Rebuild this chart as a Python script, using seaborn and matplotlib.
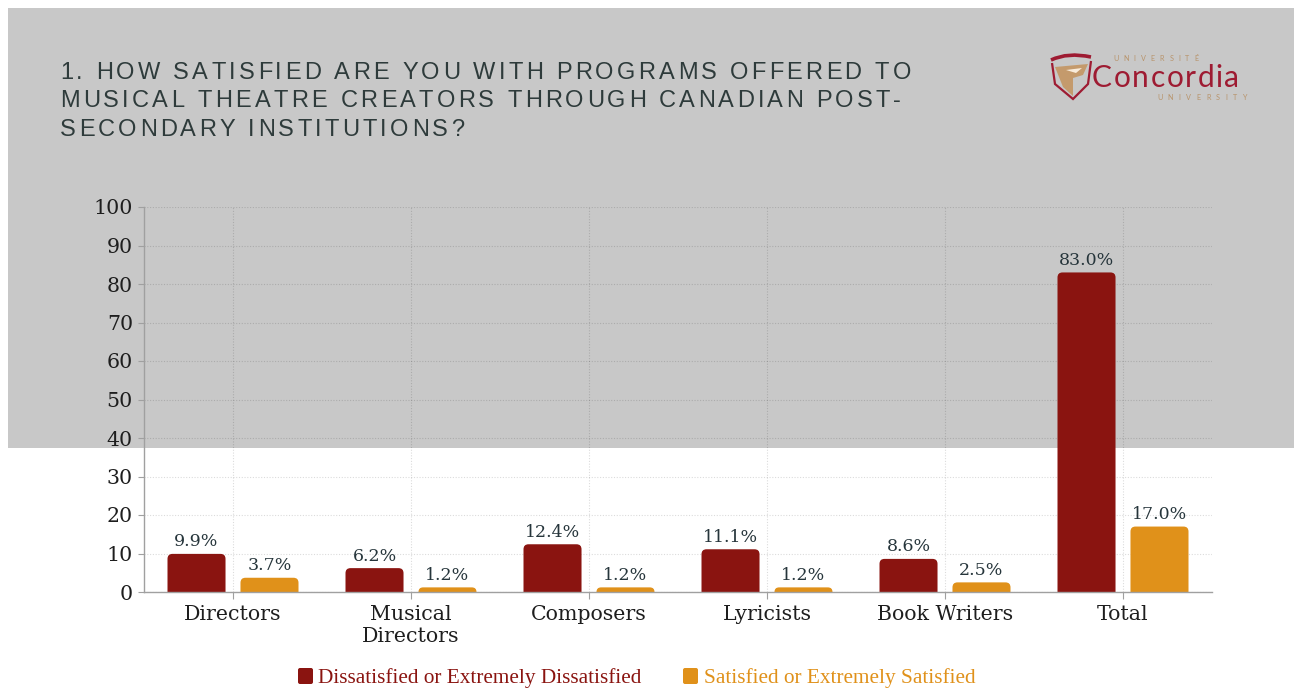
import numpy as np
import pandas as pd
import matplotlib
matplotlib.use("Agg")
import matplotlib.pyplot as plt
from matplotlib.patches import FancyBboxPatch, Rectangle, Polygon
from matplotlib.path import Path
from matplotlib.patches import PathPatch
from matplotlib.transforms import Affine2D
import seaborn as sns

# ---- data ---------------------------------------------------------------
categories = ["Directors", "Musical\nDirectors", "Composers", "Lyricists",
              "Book Writers", "Total"]
dissatisfied = [9.9, 6.2, 12.4, 11.1, 8.6, 83.0]
satisfied = [3.7, 1.2, 1.2, 1.2, 2.5, 17.0]
series_names = ["Dissatisfied or Extremely Dissatisfied",
                "Satisfied or Extremely Satisfied"]
series_colors = ["#8a1410", "#e0911a"]
y_ticks = [0, 10, 20, 30, 40, 50, 60, 70, 80, 90, 100]
title_lines = ["1. HOW SATISFIED ARE YOU WITH PROGRAMS OFFERED TO",
               "MUSICAL THEATRE CREATORS THROUGH CANADIAN POST-",
               "SECONDARY INSTITUTIONS?"]

W, H = 1298, 688

sns.set_theme(style="white")
plt.rcParams["font.family"] = ["DejaVu Serif"]

fig = plt.figure(figsize=(W / 100, H / 100), dpi=100)
fig.patch.set_facecolor("white")
# pixel coordinates with origin at the top-left corner
px = Affine2D().scale(1 / W, -1 / H).translate(0, 1) + fig.transFigure

# grey header band
fig.add_artist(Rectangle((8, 8), 1286, 440, transform=px,
                         facecolor="#c8c8c8", edgecolor="none", zorder=-1))

# ---- bar chart ----------------------------------------------------------
ax = fig.add_axes([144 / W, 1 - 592 / H, (1212 - 144) / W, 385 / H])
ax.set_facecolor("none")

df = pd.DataFrame({
    "category": categories * 2,
    "series": [series_names[0]] * len(categories) + [series_names[1]] * len(categories),
    "value": dissatisfied + satisfied,
})
sns.barplot(data=df, x="category", y="value", hue="series",
            order=categories, hue_order=series_names, palette=series_colors,
            saturation=1, width=0.82, gap=0.205, errorbar=None, legend=False,
            ax=ax)

ax.set_xlim(-0.5, len(categories) - 0.5)
ax.set_ylim(0, 100)
ax.set_yticks(y_ticks)
ax.set_xlabel("")
ax.set_ylabel("")

# rounded tops for the bars
x_per_px = (len(categories)) / ax.bbox.width
y_per_px = 100 / ax.bbox.height
aspect = y_per_px / x_per_px
for container, values in zip(ax.containers, [dissatisfied, satisfied]):
    for bar, v in zip(container, values):
        x, w = bar.get_x(), bar.get_width()
        fc = bar.get_facecolor()
        bar.set_visible(False)
        r_px = min(5.0, v / y_per_px)
        r_y = r_px * y_per_px
        patch = FancyBboxPatch((x, -r_y), w, v + r_y,
                               boxstyle=f"round,pad=0,rounding_size={r_px * x_per_px}",
                               mutation_aspect=aspect, facecolor=fc,
                               edgecolor="none", zorder=2)
        ax.add_patch(patch)
        ax.annotate(f"{v:.1f}%", (x + w / 2, v), xytext=(0, 2.5),
                    textcoords="offset points", ha="center", va="bottom",
                    fontsize=12.5, color="#26353b", family="DejaVu Serif")

ax.set_axisbelow(True)
ax.grid(True, axis="both", linestyle=(0, (1, 1.5)), linewidth=0.8,
        color="black", alpha=0.14)
for side in ["top", "right"]:
    ax.spines[side].set_visible(False)
for side in ["left", "bottom"]:
    ax.spines[side].set_color("#a0a0a0")
    ax.spines[side].set_linewidth(1.0)
ax.tick_params(axis="y", length=4, width=0.8, color="#a0a0a0", pad=4,
               labelsize=14.8, labelcolor="#1e1e1e", left=True)
ax.tick_params(axis="x", length=5, width=0.8, color="#a0a0a0", pad=4,
               labelsize=14.8, labelcolor="#1e1e1e", bottom=True)
for lab in ax.get_xticklabels():
    lab.set_linespacing(1.25)

# ---- letter-spaced text helper ---------------------------------------------
renderer = fig.canvas.get_renderer()


def advance(ch, props):
    def width(s):
        t = fig.text(0, 0, s, fontproperties=props)
        wpx = t.get_window_extent(renderer).width
        t.remove()
        return wpx
    return width("|" + ch + "|") - width("||")


def spaced_text(x, y, s, spacing, **kw):
    probe = fig.text(0, 0, "x", **kw)
    props = probe.get_fontproperties()
    probe.remove()
    cx = x
    for ch in s:
        if ch != " ":
            fig.text(cx, y, ch, transform=px, va="baseline", ha="left", **kw)
        cx += advance(ch, props) + spacing


# ---- title ----------------------------------------------------------------
for line, base in zip(title_lines, [79, 107, 136]):
    spaced_text(60, base, line, 3.25, family="Liberation Sans", fontsize=17,
                color="#2e3b3b")

# ---- logo -----------------------------------------------------------------
crimson = "#9e1b32"
tan = "#c49a6c"
fig.add_artist(Polygon([(1055, 67), (1088, 64), (1083, 75), (1073, 78),
                        (1073, 96), (1063, 87)], closed=True, transform=px,
                       facecolor=tan, edgecolor="none"))
fig.add_artist(Polygon([(1066, 70), (1082, 68), (1076, 73)], closed=True,
                       transform=px, facecolor="#fff6e8", edgecolor="none",
                       alpha=0.9))
top = Path([(1051, 60), (1068, 52), (1091, 57)],
           [Path.MOVETO, Path.CURVE3, Path.CURVE3])
fig.add_artist(PathPatch(top, transform=px, facecolor="none",
                         edgecolor=crimson, linewidth=2.6))
sides = Path([(1052, 63), (1055, 84), (1073, 99), (1088, 84), (1091, 61)],
             [Path.MOVETO, Path.LINETO, Path.LINETO, Path.LINETO, Path.LINETO])
fig.add_artist(PathPatch(sides, transform=px, facecolor="none",
                         edgecolor=crimson, linewidth=1.6))
spaced_text(1092, 87, "Concordia", 1.6, family="Lato", fontsize=21.5,
            color=crimson)
spaced_text(1113, 61, "UNIVERSITÉ", 5.0, family="Lato", fontsize=5.2,
            color="#b8946c")
spaced_text(1157, 100, "UNIVERSITY", 5.4, family="Lato", fontsize=5.2,
            color="#b8946c")

# ---- legend ---------------------------------------------------------------
for (sx, tx), name, color in zip([(298, 318), (683, 704)], series_names,
                                 series_colors):
    fig.add_artist(FancyBboxPatch((sx, 668), 15, 16,
                                  boxstyle="round,pad=0,rounding_size=2",
                                  transform=px, facecolor=color,
                                  edgecolor="none"))
    fig.text(tx, 683, name, transform=px, va="baseline", ha="left",
             family="Liberation Serif", fontsize=15.3, color=color)

fig.savefig("out.png", dpi=100)
